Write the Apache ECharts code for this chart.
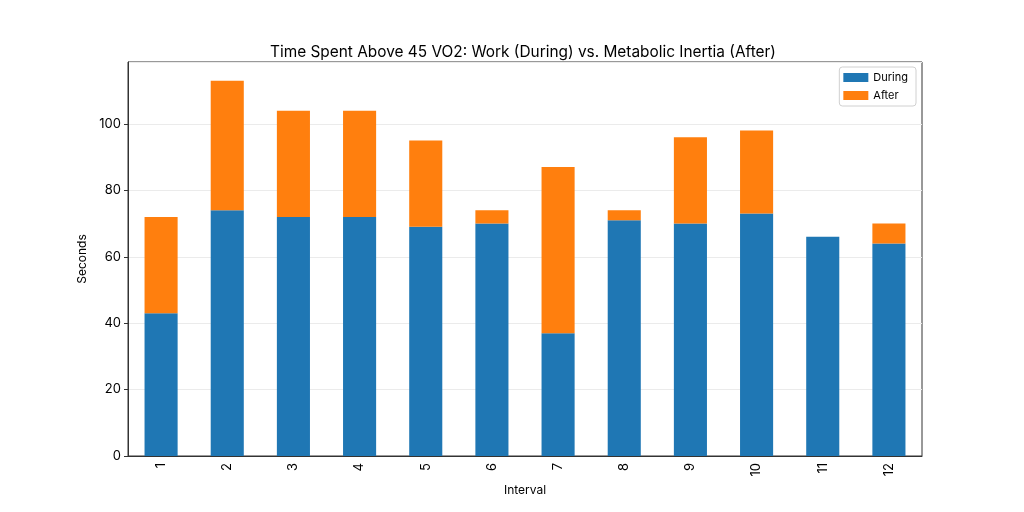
<!DOCTYPE html>
<html>
<head>
<meta charset="utf-8">
<script src="https://cdn.jsdelivr.net/npm/echarts@6/dist/echarts.min.js"></script>
<style>html,body{margin:0;padding:0;background:#fff;}#c{width:1024px;height:512px;}</style>
</head>
<body>
<div id="c"></div>
<script>
const categories = ['1','2','3','4','5','6','7','8','9','10','11','12'];
const during = [43, 74, 72, 72, 69, 70, 37, 71, 70, 73, 66, 64];
const after = [29, 39, 32, 32, 26, 4, 50, 3, 26, 25, 0, 6];
const yTicks = [0, 20, 40, 60, 80, 100];

const FONT = 'Inter';
const chart = echarts.init(document.getElementById('c'), null, {renderer: 'canvas'});
chart.setOption({
  animation: false,
  textStyle: {fontFamily: FONT},
  title: {
    text: 'Time Spent Above 45 VO2: Work (During) vs. Metabolic Inertia (After)',
    left: 265, top: 40,
    textStyle: {fontFamily: FONT, fontSize: 15.4, fontWeight: 'normal', color: '#000'}
  },
  legend: {
    data: ['During', 'After'],
    orient: 'vertical',
    right: 108, top: 67,
    itemWidth: 25, itemHeight: 9, itemGap: 7,
    icon: 'rect',
    padding: [5, 8, 5, 4],
    borderColor: '#d0d0d0', borderWidth: 1, borderRadius: 3,
    backgroundColor: '#fff',
    textStyle: {fontFamily: FONT, fontSize: 11, color: '#000'}
  },
  grid: {left: 128, right: 102, top: 62, bottom: 56, show: true, borderColor: '#333', borderWidth: 1},
  xAxis: {
    type: 'category',
    data: categories,
    name: 'Interval', nameLocation: 'middle', nameGap: 28,
    nameTextStyle: {fontFamily: FONT, fontSize: 12, color: '#000'},
    axisLine: {lineStyle: {color: '#333'}},
    axisTick: {alignWithLabel: true, length: 4, lineStyle: {color: '#333'}},
    axisLabel: {rotate: 90, fontFamily: FONT, fontSize: 13, color: '#000', margin: 7}
  },
  yAxis: {
    type: 'value',
    min: yTicks[0], max: 118.65, interval: yTicks[1] - yTicks[0],
    name: 'Seconds', nameLocation: 'middle', nameGap: 38,
    nameTextStyle: {fontFamily: FONT, fontSize: 12, color: '#000'},
    axisLine: {show: true, lineStyle: {color: '#333'}},
    axisTick: {show: true, length: 4, lineStyle: {color: '#333'}},
    axisLabel: {fontFamily: FONT, fontSize: 13, color: '#000', margin: 7, showMaxLabel: false},
    splitLine: {show: true, lineStyle: {color: '#ebebeb', width: 1}}
  },
  series: [
    {name: 'During', type: 'bar', stack: 'total', data: during, barWidth: '50%',
     itemStyle: {color: '#1f77b4'}},
    {name: 'After', type: 'bar', stack: 'total', data: after, barWidth: '50%',
     itemStyle: {color: '#ff7f0e'}}
  ]
});
</script>
</body>
</html>
